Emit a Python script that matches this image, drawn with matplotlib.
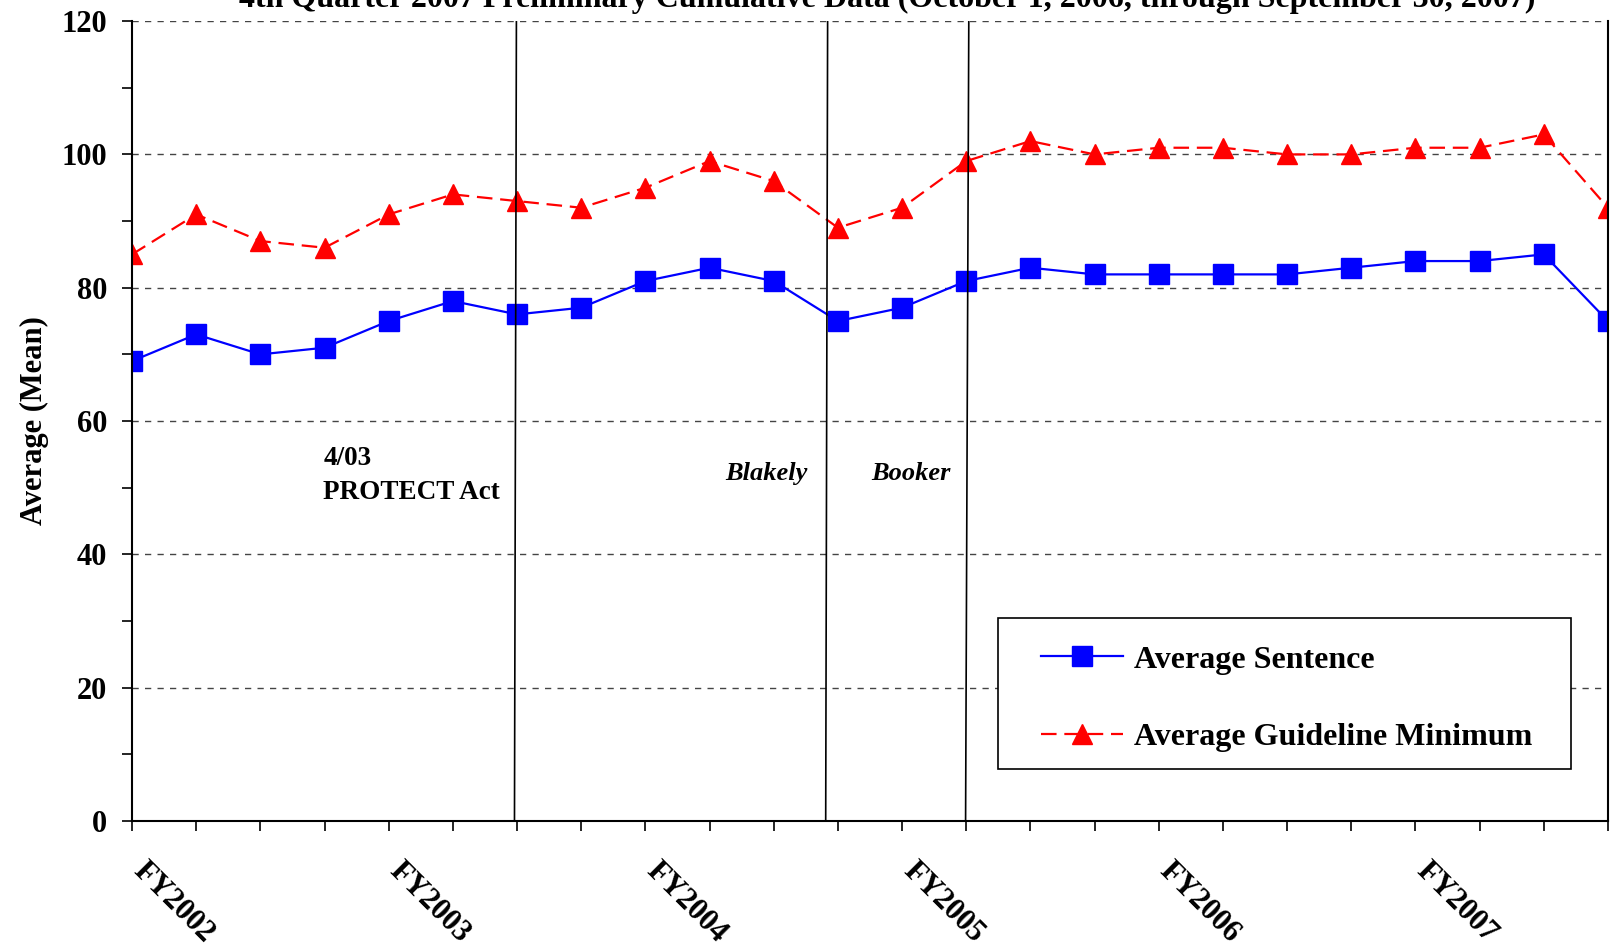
import numpy as np
import matplotlib
matplotlib.use("Agg")
import matplotlib.pyplot as plt
from matplotlib.patches import Rectangle

plt.rcParams.update({
    "font.family": "Liberation Serif",
    "font.weight": "bold",
})

# quarterly data, FY2002 Q1 .. FY2007 Q4
quarters = np.arange(24)
avg_sentence = [69, 73, 70, 71, 75, 78, 76, 77, 81, 83, 81, 75,
                77, 81, 83, 82, 82, 82, 82, 83, 84, 84, 85, 75]
avg_guideline_min = [85, 91, 87, 86, 91, 94, 93, 92, 95, 99, 96, 89,
                     92, 99, 102, 100, 101, 101, 100, 100, 101, 101, 103, 92]
year_labels = ["FY2002", "FY2003", "FY2004", "FY2005", "FY2006", "FY2007"]

# event markers (bottom x, top x) in quarter units
events = [(5.96, 5.99), (10.81, 10.84), (12.99, 13.04)]

fig = plt.figure(figsize=(16.16, 9.5), dpi=100)
ax = fig.add_axes([0.0817, 0.1358, 0.9133, 0.8420])

ax.plot(quarters, avg_sentence, color="#0000FF", lw=1.6, marker="s",
        markersize=14, label="Average Sentence")
ax.plot(quarters, avg_guideline_min, color="#FF0000", lw=1.6, marker="^",
        markersize=15, dashes=(7, 3.5), label="Average Guideline Minimum")

for xb, xt in events:
    ax.plot([xb, xt], [0, 120], color="black", lw=1.2)

ax.set_xlim(0, 23)
ax.set_ylim(0, 120)

# y axis: labels every 20, ticks every 10
ax.set_yticks(np.arange(0, 121, 20))
ax.set_yticks(np.arange(10, 120, 20), minor=True)
ax.tick_params(axis="y", which="both", direction="out", length=7, width=1.2,
               labelsize=22, pad=11)
ax.grid(axis="y", which="major", color="#444444", linestyle=(0, (4.5, 4.5)), lw=1)

# x axis: tick every quarter, year label at each Q1
ax.set_xticks(quarters)
ax.set_xticklabels([year_labels[i // 4] if i % 4 == 0 else "" for i in quarters])
ax.tick_params(axis="x", direction="out", length=7, width=1.2, labelsize=22, pad=29.7)
for lab in ax.get_xticklabels():
    lab.set_rotation(-45)
    lab.set_rotation_mode("anchor")
    lab.set_ha("left")
    lab.set_va("baseline")

ax.spines["top"].set_visible(False)
for s in ["left", "bottom", "right"]:
    ax.spines[s].set_linewidth(1.5)

ax.set_ylabel("Average (Mean)", fontsize=22, fontweight="bold")
ax.yaxis.set_label_coords(-0.056, 0.5)

ax.text(2.98, 56.2, "4/03\nPROTECT Act", fontsize=19.5, va="top", ha="left",
        linespacing=1.45)
ax.text(9.88, 51.1, "Blakely", fontsize=19, style="italic", ha="center", va="baseline")
ax.text(12.14, 51.1, "Booker", fontsize=19, style="italic", ha="center", va="baseline")

# legend box drawn separately, legend entries inside it
ax.add_patch(Rectangle((0.587, 0.065), 0.388, 0.189, transform=ax.transAxes,
                       facecolor="white", edgecolor="black", lw=1.2, zorder=4))
leg = ax.legend(loc="center left", bbox_to_anchor=(0.616, 0.153),
                fontsize=23, frameon=False, handlelength=2.56,
                labelspacing=1.5, borderpad=0, handletextpad=0.34, borderaxespad=0)
leg.set_zorder(5)

fig.text(0.549, 1 - 7 / 950, "4th Quarter 2007 Preliminary Cumulative Data "
         "(October 1, 2006, through September 30, 2007)",
         fontsize=23, ha="center", va="baseline")

fig.savefig("out.png", dpi=100)
